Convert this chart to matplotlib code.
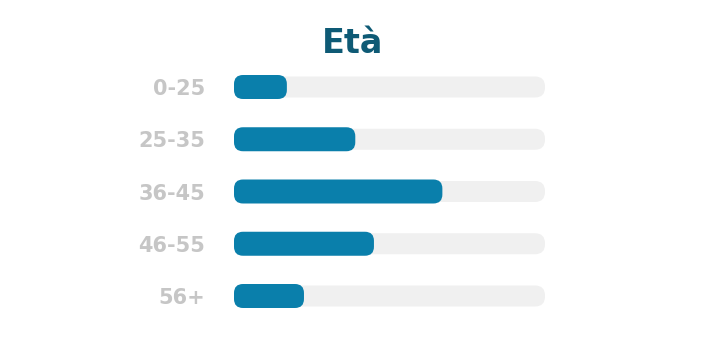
import matplotlib
matplotlib.use("Agg")
import matplotlib.pyplot as plt
from matplotlib.patches import FancyBboxPatch

# ---- data ----
categories = ["0-25", "25-35", "36-45", "46-55", "56+"]
values = [17, 39, 67, 45, 22.5]   # share of the full track (0-100)
track_max = 100
title = "Età"

# ---- style ----
W, H, DPI = 717, 359, 100
BLUE = "#0a7fab"
TRACK = "#f0f0f0"
LABEL = "#c6c6c6"
TITLE = "#0e5a75"
FONT = ["DejaVu Sans"]

fig = plt.figure(figsize=(W / DPI, H / DPI), dpi=DPI)
fig.patch.set_facecolor("white")

# axes box in pixels: track spans x 234..545, rows centred at y 87..296
x0, x1 = 234, 545
row_top, row_bot = 87, 296
step = (row_bot - row_top) / (len(categories) - 1)
y_top_px = row_top - step / 2
y_bot_px = row_bot + step / 2
ax = fig.add_axes([x0 / W, 1 - y_bot_px / H, (x1 - x0) / W, (y_bot_px - y_top_px) / H])
ax.set_xlim(0, track_max)
ax.set_ylim(len(categories) - 0.5, -0.5)
ax.axis("off")

# data units per pixel, to keep the rounded ends circular
ux = track_max / (x1 - x0)
uy = len(categories) / (y_bot_px - y_top_px)
aspect = uy / ux

track_h = 21 * uy
bar_h = 24 * uy
for i, (cat, v) in enumerate(zip(categories, values)):
    ax.add_patch(FancyBboxPatch((0, i - track_h / 2), track_max, track_h,
                                boxstyle=f"round,pad=0,rounding_size={10 * ux}",
                                mutation_aspect=aspect, facecolor=TRACK,
                                edgecolor="none"))
    ax.add_patch(FancyBboxPatch((0, i - bar_h / 2), v, bar_h,
                                boxstyle=f"round,pad=0,rounding_size={9 * ux}",
                                mutation_aspect=aspect, facecolor=BLUE,
                                edgecolor="none"))
    ax.text(-(x0 - 205) * ux, i, cat, ha="right", va="center_baseline",
            color=LABEL, fontsize=15, fontweight="bold", family=FONT)

fig.text(353 / W, 1 - 53 / H, title, ha="center", va="baseline", color=TITLE,
         fontsize=24, fontweight="bold", family=FONT)

fig.savefig("out.png", dpi=DPI, facecolor="white")
